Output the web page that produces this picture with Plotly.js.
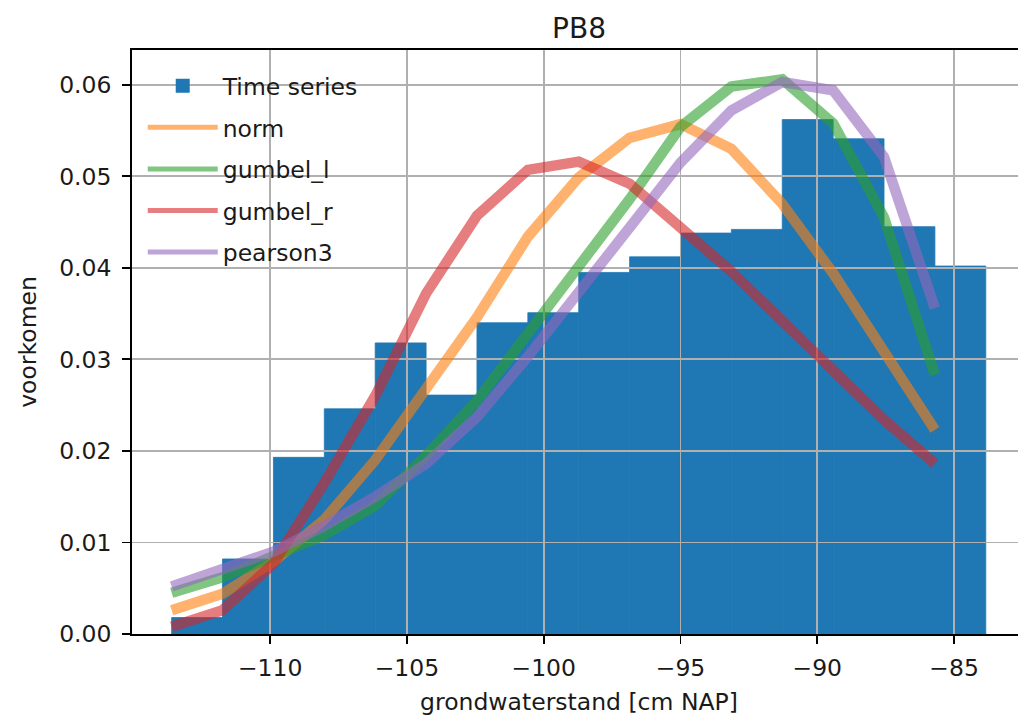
<!DOCTYPE html>
<html>
<head>
<meta charset="utf-8">
<script src="https://cdn.plot.ly/plotly-3.0.1.min.js"></script>
<style>
  html, body { margin: 0; padding: 0; overflow: hidden; background: #ffffff; }
  #chart { width: 1026px; height: 722px; }
</style>
</head>
<body>
<div id="chart"></div>
<script>
// Histogram bin edges of the groundwater levels [cm NAP]
const binEdges = [-113.60, -111.74, -109.88, -108.02, -106.16, -104.30, -102.44, -100.58,
                  -98.72, -96.86, -95.00, -93.14, -91.28, -89.42, -87.56, -85.70, -83.84];

// Normalised histogram of the measured time series
const timeSeries = [0.0018, 0.0082, 0.0193, 0.0246, 0.0318, 0.0261, 0.0340, 0.0351,
                    0.0395, 0.0412, 0.0438, 0.0442, 0.0562, 0.0541, 0.0445, 0.0402];

// Fitted probability densities, evaluated at the left bin edges
const norm     = [0.0026, 0.0044, 0.0079, 0.0125, 0.0190, 0.0266, 0.0346, 0.0434,
                  0.0499, 0.0542, 0.0557, 0.0530, 0.0470, 0.0394, 0.0310, 0.0223];
const gumbel_l = [0.0045, 0.0062, 0.0085, 0.0108, 0.0140, 0.0195, 0.0255, 0.0328,
                  0.0402, 0.0475, 0.0554, 0.0598, 0.0606, 0.0558, 0.0455, 0.0283];
const gumbel_r = [0.0008, 0.0026, 0.0077, 0.0165, 0.0260, 0.0372, 0.0457, 0.0507,
                  0.0516, 0.0492, 0.0444, 0.0396, 0.0342, 0.0288, 0.0234, 0.0186];
const pearson3 = [0.0052, 0.0071, 0.0090, 0.0118, 0.0150, 0.0186, 0.0237, 0.0303,
                  0.0372, 0.0444, 0.0515, 0.0572, 0.0603, 0.0594, 0.0521, 0.0356];

const xTicks = [-110, -105, -100, -95, -90, -85];
const yTicks = [0.00, 0.01, 0.02, 0.03, 0.04, 0.05, 0.06];

const binLeft = binEdges.slice(0, -1);
const binWidth = binLeft.map((e, i) => binEdges[i + 1] - e);

const xRange = [-115.05, -82.37];
const yRange = [0, 0.0638];
const FONT = 'DejaVu Sans, Liberation Sans, sans-serif';
const fs = 23.5;

const fits = [
  { name: 'norm',     y: norm,     color: 'rgba(255,127,14,0.6)' },
  { name: 'gumbel_l', y: gumbel_l, color: 'rgba(44,160,44,0.6)' },
  { name: 'gumbel_r', y: gumbel_r, color: 'rgba(214,39,40,0.6)' },
  { name: 'pearson3', y: pearson3, color: 'rgba(148,103,189,0.6)' }
];

const traces = [{
  type: 'bar',
  name: 'Time series',
  legendgroup: 'ts',
  x: binLeft,
  y: timeSeries,
  width: binWidth,
  offset: 0,
  marker: { color: '#1f77b4', line: { width: 0.8, color: '#1f77b4' } },
  xaxis: 'x',
  yaxis: 'y',
  hoverinfo: 'x+y'
}].concat(fits.map(f => ({
  type: 'scatter',
  mode: 'lines',
  name: f.name,
  legendgroup: f.name,
  x: binLeft,
  y: f.y,
  line: { color: f.color, width: 10.5 },
  xaxis: 'x2',
  yaxis: 'y2'
})));

const axisCommon = {
  tickfont: { family: FONT, size: fs, color: '#1a1a1a' },
  zeroline: false
};

const layout = {
  width: 1026,
  height: 722,
  margin: { l: 132, r: 0, t: 50, b: 88 },
  paper_bgcolor: '#ffffff',
  plot_bgcolor: 'rgba(0,0,0,0)',
  font: { family: FONT, size: fs, color: '#1a1a1a' },
  title: {
    text: 'PB8',
    font: { family: FONT, size: 28, color: '#1a1a1a' },
    xref: 'paper', x: 0.5, xanchor: 'center',
    yref: 'container', y: 1 - 28 / 722, yanchor: 'middle'
  },
  showlegend: true,
  legend: {
    x: 0.012, y: 0.976, xanchor: 'left', yanchor: 'top',
    bgcolor: 'rgba(0,0,0,0)', borderwidth: 0,
    font: { family: FONT, size: fs, color: '#1a1a1a' },
    itemwidth: 70, itemsizing: 'constant',
    traceorder: 'grouped', tracegroupgap: 8
  },
  xaxis: Object.assign({}, axisCommon, {
    domain: [0, 1], anchor: 'y', range: xRange,
    tickmode: 'array', tickvals: xTicks,
    ticks: 'outside', ticklen: 8, tickwidth: 1.8, tickcolor: '#000',
    ticklabelstandoff: 4,
    showline: true, linecolor: '#000', linewidth: 1.8, mirror: true,
    showgrid: false,
    title: { text: 'grondwaterstand [cm NAP]', font: { family: FONT, size: fs, color: '#1a1a1a' }, standoff: 12 }
  }),
  yaxis: Object.assign({}, axisCommon, {
    domain: [0, 1], anchor: 'x', range: yRange,
    tickmode: 'array', tickvals: yTicks, tickformat: '.2f',
    ticks: 'outside', ticklen: 8, tickwidth: 1.8, tickcolor: '#000',
    ticklabelstandoff: 6,
    showline: true, linecolor: '#000', linewidth: 1.8, mirror: false,
    showgrid: false,
    title: { text: 'voorkomen', font: { family: FONT, size: fs, color: '#1a1a1a' }, standoff: 16 }
  }),
  // second layer of axes: the grid sits above the bars and below the fitted lines
  xaxis2: Object.assign({}, axisCommon, {
    domain: [0, 1], anchor: 'y2', range: xRange,
    tickmode: 'array', tickvals: xTicks,
    showticklabels: false, ticks: '', showline: false,
    showgrid: true, gridcolor: '#b0b0b0', gridwidth: 1.8
  }),
  yaxis2: Object.assign({}, axisCommon, {
    domain: [0, 1], anchor: 'x2', range: yRange,
    tickmode: 'array', tickvals: yTicks,
    showticklabels: false, ticks: '', showline: false,
    showgrid: true, gridcolor: '#b0b0b0', gridwidth: 1.8
  })
};

Plotly.newPlot('chart', traces, layout, { displayModeBar: false, staticPlot: true });
</script>
</body>
</html>
